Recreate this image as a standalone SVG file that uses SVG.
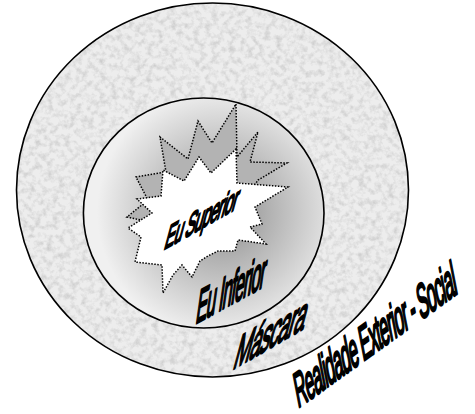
<svg xmlns="http://www.w3.org/2000/svg" width="475" height="414" viewBox="0 0 475 414">
  <style>
    .ring { stroke: #000; stroke-width: 1.6; fill: none; }
    .burst { stroke: #000; stroke-width: 1.5; stroke-dasharray: 1.5 1.5; stroke-linejoin: miter; }
    .lbl { font-family: "Liberation Sans", Arial, sans-serif; font-weight: normal; letter-spacing: -0.05em; fill: #000; stroke: #000; stroke-width: 2.1; stroke-linejoin: round; vector-effect: non-scaling-stroke; }
  </style>
  <defs>
    <filter id="granite" x="-5%" y="-5%" width="110%" height="110%" color-interpolation-filters="sRGB">
      <feTurbulence type="fractalNoise" baseFrequency="0.17" numOctaves="3" seed="7" result="n"/>
      <feColorMatrix in="n" type="matrix" values="0 0 0 0 0.79  0 0 0 0 0.79  0 0 0 0 0.79  2.0 0 0 0 -0.85" result="spots"/>
      <feComposite in="spots" in2="SourceAlpha" operator="in" result="clipped"/>
      <feMerge><feMergeNode in="SourceGraphic"/><feMergeNode in="clipped"/></feMerge>
    </filter>
    <radialGradient id="innerGrad" gradientUnits="userSpaceOnUse" cx="222" cy="212" r="125">
      <stop offset="0" stop-color="#8a8a8a"/>
      <stop offset="0.4" stop-color="#b4b4b4"/>
      <stop offset="1" stop-color="#f0f0f0"/>
    </radialGradient>
  </defs>

  <g id="realidade">
    <ellipse cx="212.5" cy="190" rx="196" ry="187" fill="#ededed" filter="url(#granite)"/>
    <ellipse class="ring" cx="212.5" cy="190" rx="196" ry="187"/>
    <text class="lbl" x="0" y="0" font-size="47.5" transform="matrix(0.3203,-0.2301,0.1908,0.9816,298,408)">Realidade Exterior - Social</text>
  </g>

  <g id="mascara">
    <ellipse cx="203.7" cy="213" rx="120.3" ry="115" fill="url(#innerGrad)"/>
    <ellipse class="ring" cx="203.7" cy="213" rx="120.3" ry="115"/>
    <text class="lbl" x="0" y="0" font-size="51.7" transform="matrix(0.3891,-0.2247,-0.2588,0.9659,232,370)">Máscara</text>
  </g>

  <g id="eu-inferior">
    <polygon class="burst" fill="#b3b3b3" points="236,104 237,157 258,132 250,162 287,163 258,180 245,200 232,238 185,258 150,238 150,222 127,217 148,200 136,177 166,172 160,137 188,159 198,121 212,143"/>
    <text class="lbl" x="0" y="0" font-size="48.9" transform="matrix(0.3434,-0.1864,-0.1392,0.9903,195,324)">Eu Inferior</text>
  </g>

  <g id="eu-superior">
    <polygon class="burst" fill="#ffffff" points="236,149 237,183 288,187 255,207 262,224 250,227 266,244 238,240 235,251 218,251 208,256 200,261 192,277 182,265 173,275 163,293 162,265 135,262 141,237 128,228 152,213 137,199 161,196 163,170 184,181 199,157 211,173"/>
    <text class="lbl" x="0" y="0" font-size="36.3" transform="matrix(0.4175,-0.2362,-0.2588,0.9659,163.3,250)">Eu Superior</text>
  </g>

  <g id="connectors"/>
</svg>
